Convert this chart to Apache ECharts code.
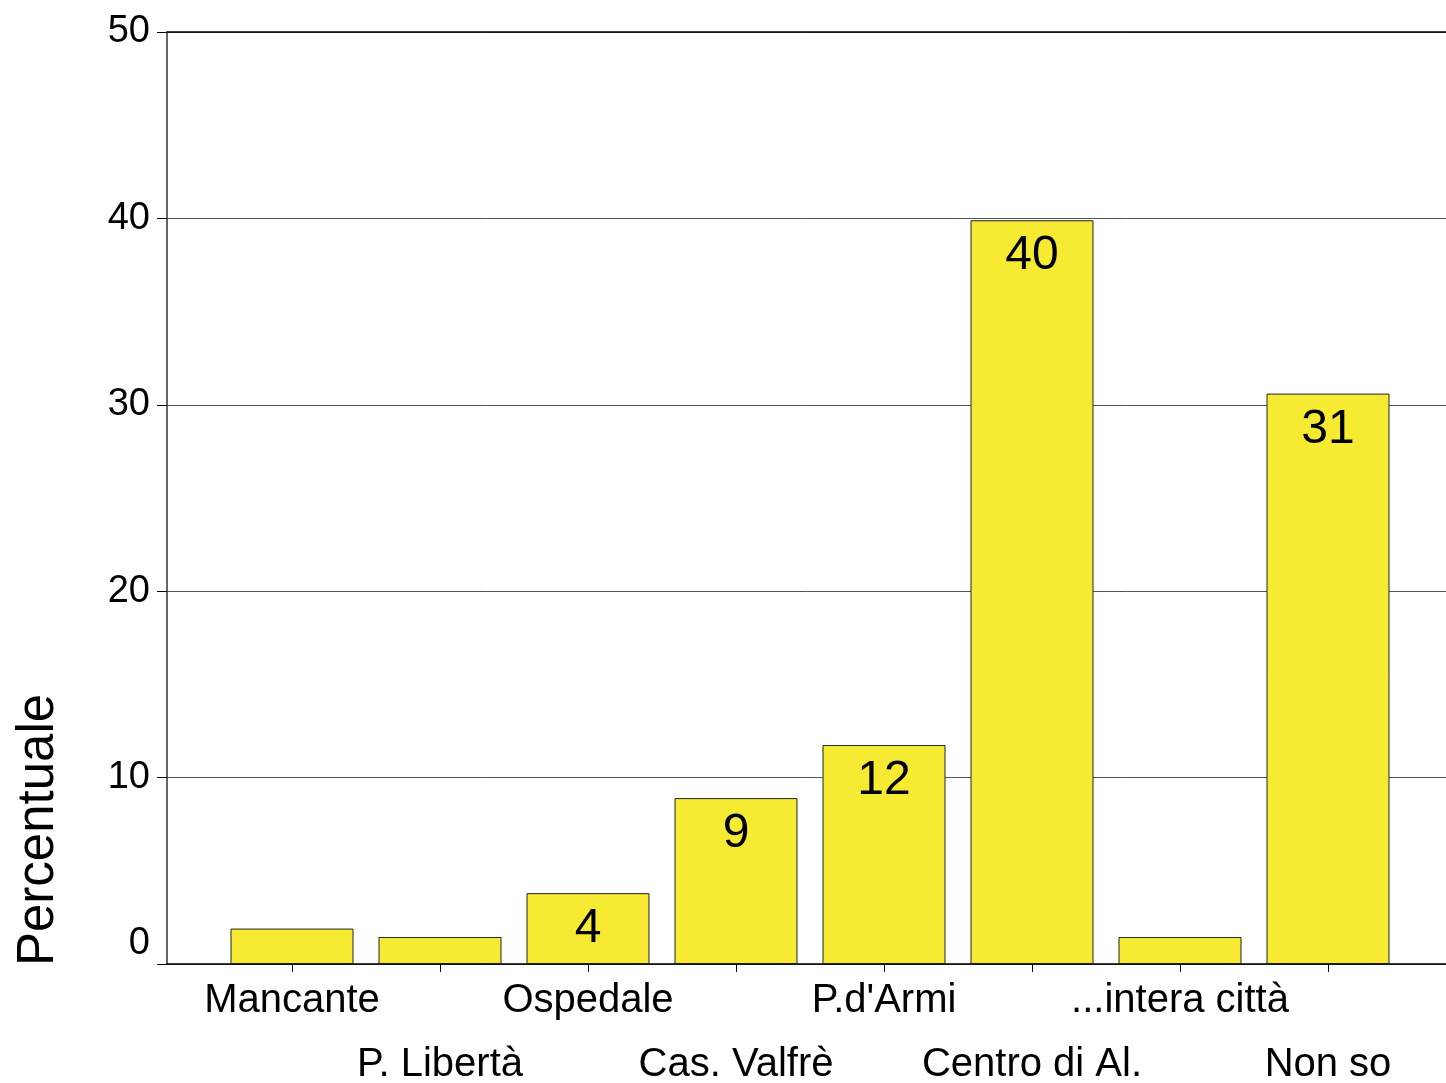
<!DOCTYPE html>
<html>
<head>
<meta charset="utf-8">
<style>
  html, body { margin: 0; padding: 0; background: #fff; }
  #main { width: 1446px; height: 1083px; }
</style>
</head>
<body>
<div id="main"></div>
<script src="https://cdn.jsdelivr.net/npm/echarts@6/dist/echarts.min.js"></script>
<script>
// dati
var categories = ['Mancante', 'P. Libertà', 'Ospedale', 'Cas. Valfrè', "P.d'Armi", 'Centro di Al.', '...intera città', 'Non so'];
var values = [1.9, 1.45, 3.8, 8.9, 11.75, 39.9, 1.45, 30.6];
var barLabels = ['', '', '4', '9', '12', '40', '', '31'];
var yTicks = [0, 10, 20, 30, 40, 50];

var font = 'Liberation Sans, Arial, sans-serif';
var chart = echarts.init(document.getElementById('main'));

var option = {
    backgroundColor: '#fff',
    animation: false,
    grid: [
        // cornice e griglia
        {left: 167, right: 0, top: 32, bottom: 119, outerBoundsMode: 'none', containLabel: false},
        // barre
        {left: 218, right: 44, top: 32, bottom: 119, outerBoundsMode: 'none', containLabel: false}
    ],
    graphic: [{
        type: 'text',
        x: 39,
        y: 830,
        rotation: Math.PI / 2,
        style: {
            text: 'Percentuale',
            font: '51px ' + font,
            fill: '#000',
            align: 'center',
            verticalAlign: 'middle'
        }
    }],
    xAxis: [
        {
            gridIndex: 0, type: 'value', min: 0, max: 1, position: 'bottom',
            axisLine: {show: true, onZero: false, lineStyle: {color: '#000', width: 1.5}},
            axisTick: {show: false}, axisLabel: {show: false}, splitLine: {show: false}
        },
        {
            gridIndex: 0, type: 'value', min: 0, max: 1, position: 'top',
            axisLine: {show: true, onZero: false, lineStyle: {color: '#000', width: 1.5}},
            axisTick: {show: false}, axisLabel: {show: false}, splitLine: {show: false}
        },
        {
            gridIndex: 1, type: 'category', data: categories, position: 'bottom',
            axisLine: {show: false},
            axisTick: {show: true, alignWithLabel: true, length: 8, lineStyle: {color: '#000'}},
            axisLabel: {
                interval: 0,
                margin: 5,
                color: '#000',
                fontFamily: font,
                fontSize: 40,
                lineHeight: 64,
                formatter: function (v, i) {
                    return i % 2 === 1 ? '\n' + v : v;
                }
            }
        }
    ],
    yAxis: [
        {
            gridIndex: 0, type: 'value', min: 0, max: 50, interval: 10,
            axisLine: {show: true, lineStyle: {color: '#333', width: 1.5}},
            axisTick: {show: true, length: 10, lineStyle: {color: '#000'}},
            axisLabel: {
                margin: 17,
                color: '#000',
                fontFamily: font,
                fontSize: 38,
                formatter: function (v) {
                    return v === yTicks[0] ? '{z|' + v + '}' : String(v);
                },
                rich: {
                    z: {fontFamily: font, fontSize: 38, color: '#000', padding: [0, 0, 40, 0]}
                }
            },
            splitLine: {show: true, lineStyle: {color: '#555', width: 1}}
        },
        {
            gridIndex: 1, type: 'value', min: 0, max: 50, interval: 10,
            show: false, splitLine: {show: false}
        }
    ],
    series: [
        {
            type: 'bar',
            xAxisIndex: 2,
            yAxisIndex: 1,
            data: values,
            barWidth: 123,
            itemStyle: {
                color: '#f6eb32',
                borderColor: '#222',
                borderWidth: 1
            },
            label: {
                show: true,
                position: 'insideTop',
                distance: 12,
                color: '#000',
                fontFamily: font,
                fontSize: 48,
                formatter: function (p) {
                    return barLabels[p.dataIndex];
                }
            }
        }
    ]
};

chart.setOption(option);
</script>
</body>
</html>
